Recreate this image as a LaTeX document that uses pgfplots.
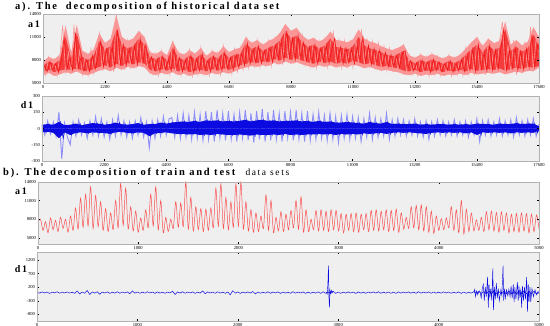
\documentclass[border=0pt]{standalone}
\usepackage{pgfplots}
\pgfplotsset{compat=1.18}
\usepackage{pgfplotstable}
\usepackage{fontspec}
\setmainfont{Liberation Serif}
\newfontfamily\titlefont[LetterSpace=17]{Liberation Serif}
\definecolor{lred}{RGB}{250,150,150}
\definecolor{dred}{RGB}{240,20,20}
\definecolor{fred}{RGB}{245,60,60}
\definecolor{mred}{RGB}{250,80,80}
\definecolor{lblue}{RGB}{140,140,250}
\definecolor{dblue}{RGB}{10,10,225}
\definecolor{bgc}{RGB}{239,239,239}

% ---- top a1 envelopes: pink band (U,L) and red band (u,l) ----
\pgfplotstableread[row sep=\\]{
x U L u l\\
0 7800 6000 7200 6500\\ 200 8400 6300 7800 6700\\ 400 8100 5900 7500 6400\\ 600 8700 6100 8000 6600\\
800 12500 6400 11000 6800\\ 1000 9000 6200 8200 6700\\ 1200 12600 6500 11500 6900\\ 1400 9200 6100 8400 6600\\
1600 8800 6000 8000 6500\\ 1800 9400 6300 8600 6800\\ 2000 11500 6600 10500 7100\\ 2200 10200 6800 9400 7300\\
2400 10800 6500 9800 7000\\ 2600 13900 7000 12000 7500\\ 2800 11000 6700 10000 7200\\ 3000 10500 7100 9500 7600\\
3200 10800 6900 9800 7400\\ 3400 11800 7200 10800 7700\\ 3600 11000 7000 10000 7500\\ 3800 9000 6200 8400 6700\\
4000 8800 6000 8100 6500\\ 4200 9200 6300 8500 6800\\ 4400 8600 6100 8000 6600\\ 4600 10500 6400 9600 6900\\
4800 9000 6000 8300 6500\\ 5000 8700 6200 8000 6700\\ 5200 9300 5900 8600 6400\\ 5400 8800 6100 8100 6600\\
5600 9600 6200 8800 6700\\ 5800 8500 6000 7900 6500\\ 6000 9200 6300 8500 6800\\ 6200 8900 6100 8200 6600\\
6400 9800 6400 9000 6900\\ 6600 9000 6200 8300 6700\\ 6800 9400 6500 8700 7000\\ 7000 9600 6800 8800 7300\\
7200 11000 7000 10200 7500\\ 7400 10200 7200 9400 7700\\ 7600 10600 7100 9800 7600\\ 7800 10000 7300 9200 7800\\
8000 10500 7200 9600 7700\\ 8200 10800 7600 9900 8100\\ 8400 11500 7400 10500 7900\\ 8600 12700 7800 11800 8300\\
8800 11800 7500 10800 8000\\ 9000 12200 7700 11200 8200\\ 9200 11200 7400 10300 7900\\ 9400 10600 7200 9700 7700\\
9600 10900 7000 10000 7500\\ 9800 10400 7300 9500 7800\\ 10000 10800 7100 9900 7600\\ 10200 11700 7300 10800 7800\\
10400 10600 7000 9700 7500\\ 10600 10500 7200 9600 7700\\ 10800 10300 7000 9400 7500\\ 11000 10700 7400 9800 7900\\
11200 12000 7200 11000 7700\\ 11400 10800 6900 9900 7400\\ 11600 10400 7100 9500 7600\\ 11800 10200 6800 9300 7300\\
12000 9800 6600 9000 7100\\ 12200 9500 6700 8700 7200\\ 12400 9300 6500 8500 7000\\ 12600 9600 6400 8800 6900\\
12800 10000 6100 9200 6600\\ 13000 8600 6000 7900 6500\\ 13200 8300 6200 7600 6700\\ 13400 8700 5900 8000 6400\\
13600 8400 6100 7700 6600\\ 13800 8800 6000 8100 6500\\ 14000 8500 6200 7800 6700\\ 14200 8200 5900 7500 6400\\
14400 8600 6100 7900 6600\\ 14600 8300 6000 7600 6500\\ 14800 8700 6200 8000 6700\\ 15000 9500 6000 8700 6500\\
15200 10300 6300 9400 6800\\ 15400 11000 6100 10000 6600\\ 15600 9800 6200 9000 6700\\ 15800 10800 6300 9900 6800\\
16000 10200 6200 9300 6700\\ 16200 10500 6400 9600 6900\\ 16400 13000 6100 12000 6600\\ 16600 10000 6300 9200 6800\\
16800 10600 6500 9700 7000\\ 17000 9900 6300 9100 6800\\ 17200 10400 6600 9500 7100\\ 17400 12300 6500 11300 7000\\
17600 11000 7000 10000 7200\\
}\AoneEnv

% ---- top a1 light series (spikes), step 100 ----
\pgfplotstableread[header=false,row sep=\\]{
7800\\ 6000\\ 8400\\ 6300\\ 8100\\ 5900\\ 8700\\ 12500\\ 6400\\ 9000\\
6200\\ 12600\\ 6500\\ 9200\\ 6100\\ 8800\\ 6000\\ 9400\\ 6300\\ 9100\\
11500\\ 6600\\ 10200\\ 6800\\ 10800\\ 6500\\ 13900\\ 7000\\ 11000\\ 6700\\
10500\\ 7100\\ 10800\\ 6900\\ 11800\\ 7200\\ 11000\\ 7000\\ 9000\\ 6200\\
8800\\ 6000\\ 9200\\ 6300\\ 8600\\ 6100\\ 10500\\ 6400\\ 9000\\ 6000\\
8700\\ 6200\\ 9300\\ 5900\\ 8800\\ 6100\\ 9600\\ 6200\\ 8500\\ 6000\\
9200\\ 6300\\ 8900\\ 6100\\ 9800\\ 6400\\ 9000\\ 6200\\ 9400\\ 6500\\
9600\\ 6800\\ 11000\\ 7000\\ 10200\\ 7200\\ 10600\\ 7100\\ 10000\\ 7300\\
10500\\ 7200\\ 10800\\ 7600\\ 11500\\ 7400\\ 12700\\ 7800\\ 11800\\ 7500\\
12200\\ 7700\\ 11200\\ 7400\\ 10600\\ 7200\\ 10900\\ 7000\\ 10400\\ 7300\\
10800\\ 7100\\ 10200\\ 11700\\ 7300\\ 10600\\ 7000\\ 10500\\ 7200\\ 10300\\
7000\\ 10700\\ 7400\\ 12000\\ 7200\\ 10800\\ 6900\\ 10400\\ 7100\\ 10200\\
6800\\ 9800\\ 6600\\ 9500\\ 6700\\ 9300\\ 6500\\ 9600\\ 10000\\ 6400\\
8600\\ 6100\\ 8300\\ 6000\\ 8700\\ 6200\\ 8400\\ 5900\\ 8800\\ 6100\\
8500\\ 6000\\ 8200\\ 6200\\ 8600\\ 5900\\ 8300\\ 6100\\ 8700\\ 6000\\
9500\\ 6200\\ 10300\\ 6000\\ 11000\\ 6300\\ 9800\\ 6100\\ 10800\\ 6200\\
10200\\ 6300\\ 10500\\ 13000\\ 6200\\ 10000\\ 6400\\ 10600\\ 6100\\ 9900\\
6300\\ 10400\\ 6500\\ 12300\\ 6600\\ 11000\\ 9000\\
}\AoneLight

% ---- top a1 dark series (texture), step 100 ----
\pgfplotstableread[header=false,row sep=\\]{
7200\\ 6500\\ 7800\\ 6700\\ 7500\\ 6400\\ 8000\\ 11000\\ 6800\\ 8200\\
6700\\ 11500\\ 6900\\ 8400\\ 6600\\ 8000\\ 6500\\ 8600\\ 6800\\ 8300\\
10500\\ 7100\\ 9400\\ 7300\\ 9800\\ 7000\\ 12000\\ 7500\\ 10000\\ 7200\\
9500\\ 7600\\ 9800\\ 7400\\ 10800\\ 7700\\ 10000\\ 7500\\ 8400\\ 6700\\
8100\\ 6500\\ 8500\\ 6800\\ 8000\\ 6600\\ 9600\\ 6900\\ 8300\\ 6500\\
8000\\ 6700\\ 8600\\ 6400\\ 8100\\ 6600\\ 8800\\ 6700\\ 7900\\ 6500\\
8500\\ 6800\\ 8200\\ 6600\\ 9000\\ 6900\\ 8300\\ 6700\\ 8700\\ 7000\\
8800\\ 7300\\ 10200\\ 7500\\ 9400\\ 7700\\ 9800\\ 7600\\ 9200\\ 7800\\
9600\\ 7700\\ 9900\\ 8100\\ 10500\\ 7900\\ 11800\\ 8300\\ 10800\\ 8000\\
11200\\ 8200\\ 10300\\ 7900\\ 9700\\ 7700\\ 10000\\ 7500\\ 9500\\ 7800\\
9900\\ 7600\\ 9400\\ 10800\\ 7800\\ 9700\\ 7500\\ 9600\\ 7700\\ 9400\\
7500\\ 9800\\ 7900\\ 11000\\ 7700\\ 9900\\ 7400\\ 9500\\ 7600\\ 9300\\
7300\\ 9000\\ 7100\\ 8700\\ 7200\\ 8500\\ 7000\\ 8800\\ 9200\\ 6900\\
7900\\ 6600\\ 7600\\ 6500\\ 8000\\ 6700\\ 7700\\ 6400\\ 8100\\ 6600\\
7800\\ 6500\\ 7500\\ 6700\\ 7900\\ 6400\\ 7600\\ 6600\\ 8000\\ 6500\\
8700\\ 6700\\ 9400\\ 6500\\ 10000\\ 6800\\ 9000\\ 6600\\ 9900\\ 6700\\
9300\\ 6800\\ 9600\\ 12000\\ 6700\\ 9200\\ 6900\\ 9700\\ 6600\\ 9100\\
6800\\ 9500\\ 7000\\ 11300\\ 7100\\ 10000\\ 8500\\
}\AoneDark

% ---- top d1 dark band envelope (u,l) ----
\pgfplotstableread[row sep=\\]{
x u l\\
0 35 -35\\ 200 40 -30\\ 400 35 -40\\ 600 60 -90\\ 800 30 -35\\ 1000 35 -60\\ 1200 45 -40\\ 1400 30 -35\\
1600 40 -45\\ 1800 50 -35\\ 2000 45 -40\\ 2200 35 -40\\ 2400 40 -50\\ 2600 55 -35\\ 2800 40 -30\\ 3000 35 -40\\
3200 40 -45\\ 3400 50 -35\\ 3600 35 -40\\ 3800 40 -70\\ 4000 40 -45\\ 4200 55 -40\\ 4400 45 -35\\ 4600 55 -45\\
4800 60 -50\\ 5000 65 -50\\ 5200 60 -55\\ 5400 70 -50\\ 5600 60 -60\\ 5800 75 -55\\ 6000 70 -60\\ 6200 75 -50\\
6400 65 -55\\ 6600 70 -60\\ 6800 65 -60\\ 7000 70 -55\\ 7200 80 -60\\ 7400 65 -65\\ 7600 75 -55\\ 7800 80 -60\\
8000 70 -60\\ 8200 75 -55\\ 8400 65 -60\\ 8600 70 -50\\ 8800 70 -60\\ 9000 75 -55\\ 9200 65 -60\\ 9400 70 -55\\
9600 60 -55\\ 9800 70 -50\\ 10000 60 -55\\ 10200 65 -50\\ 10400 55 -60\\ 10600 55 -50\\ 10800 60 -55\\ 11000 55 -50\\
11200 50 -55\\ 11400 45 -45\\ 11600 60 -50\\ 11800 50 -45\\ 12000 45 -40\\ 12200 60 -50\\ 12400 40 -40\\ 12600 45 -35\\
12800 40 -40\\ 13000 40 -35\\ 13200 45 -40\\ 13400 35 -45\\ 13600 40 -50\\ 13800 35 -40\\ 14000 40 -35\\ 14200 40 -40\\
14400 35 -35\\ 14600 40 -40\\ 14800 35 -35\\ 15000 40 -45\\ 15200 35 -35\\ 15400 45 -60\\ 15600 40 -35\\ 15800 40 -40\\
16000 35 -35\\ 16200 45 -40\\ 16400 40 -35\\ 16600 40 -45\\ 16800 50 -35\\ 17000 40 -40\\ 17200 45 -35\\ 17400 45 -40\\
17600 20 -20\\
}\DoneEnv

% ---- top d1 light series (spikes), step 100 ----
\pgfplotstableread[header=false,row sep=\\]{
40\\ -60\\ 70\\ -50\\ 60\\ -70\\ 150\\ -280\\ 50\\ -80\\
-150\\ 60\\ -70\\ 80\\ -60\\ 50\\ -90\\ 70\\ -60\\ 110\\
-70\\ 90\\ -80\\ 60\\ -100\\ 80\\ -70\\ 120\\ -60\\ 70\\
-80\\ 60\\ -90\\ 70\\ -60\\ 100\\ -80\\ 60\\ -180\\ 70\\
-90\\ 80\\ -70\\ 110\\ -60\\ 90\\ 100\\ -80\\ 120\\ -90\\
140\\ -80\\ 120\\ -100\\ 150\\ -90\\ 130\\ -110\\ 160\\ -100\\
150\\ -120\\ 170\\ -90\\ 140\\ -110\\ 160\\ -100\\ 130\\ -120\\
150\\ -90\\ 170\\ -110\\ 140\\ -130\\ 160\\ -100\\ 180\\ -120\\
150\\ -110\\ 170\\ -100\\ 140\\ -120\\ 160\\ -90\\ 150\\ -110\\
170\\ -100\\ 140\\ -120\\ 160\\ -110\\ 130\\ -100\\ 150\\ -90\\
120\\ -110\\ 140\\ -100\\ 110\\ -130\\ 120\\ -90\\ 130\\ -100\\
110\\ -90\\ 100\\ -120\\ 90\\ -80\\ 140\\ -100\\ 100\\ -80\\
90\\ -70\\ 140\\ -100\\ 80\\ -70\\ 90\\ -60\\ 80\\ -70\\
70\\ -60\\ 90\\ -70\\ 60\\ -80\\ 70\\ -100\\ 60\\ -70\\
80\\ -60\\ 70\\ -70\\ 60\\ -60\\ 80\\ -70\\ 60\\ -60\\
70\\ -80\\ 60\\ -60\\ 90\\ -120\\ 70\\ -60\\ 80\\ -70\\
60\\ -60\\ 90\\ -70\\ 70\\ -60\\ 80\\ -80\\ 100\\ -60\\
70\\ -70\\ 80\\ -60\\ 90\\ -70\\ 40\\
}\DoneLight

% ---- top d1 dark series (texture), step 100 ----
\pgfplotstableread[header=false,row sep=\\]{
30\\ -35\\ 40\\ -30\\ 35\\ -40\\ 60\\ -90\\ 30\\ -35\\
-60\\ 35\\ -40\\ 45\\ -35\\ 30\\ -45\\ 40\\ -35\\ 50\\
-40\\ 45\\ -40\\ 35\\ -50\\ 40\\ -35\\ 55\\ -30\\ 40\\
-40\\ 35\\ -45\\ 40\\ -35\\ 50\\ -40\\ 35\\ -70\\ 40\\
-45\\ 40\\ -40\\ 55\\ -35\\ 45\\ 55\\ -45\\ 60\\ -50\\
65\\ -50\\ 60\\ -55\\ 70\\ -50\\ 60\\ -60\\ 75\\ -55\\
70\\ -60\\ 75\\ -50\\ 65\\ -55\\ 70\\ -60\\ 65\\ -60\\
70\\ -55\\ 80\\ -60\\ 65\\ -65\\ 75\\ -55\\ 80\\ -60\\
70\\ -60\\ 75\\ -55\\ 65\\ -60\\ 70\\ -50\\ 70\\ -60\\
75\\ -55\\ 65\\ -60\\ 70\\ -55\\ 60\\ -55\\ 70\\ -50\\
60\\ -55\\ 65\\ -50\\ 55\\ -60\\ 55\\ -50\\ 60\\ -55\\
55\\ -50\\ 50\\ -55\\ 45\\ -45\\ 60\\ -50\\ 50\\ -45\\
45\\ -40\\ 60\\ -50\\ 40\\ -40\\ 45\\ -35\\ 40\\ -40\\
40\\ -35\\ 45\\ -40\\ 35\\ -45\\ 40\\ -50\\ 35\\ -40\\
40\\ -35\\ 40\\ -40\\ 35\\ -35\\ 40\\ -40\\ 35\\ -35\\
40\\ -45\\ 35\\ -35\\ 45\\ -60\\ 40\\ -35\\ 40\\ -40\\
35\\ -35\\ 45\\ -40\\ 40\\ -35\\ 40\\ -45\\ 50\\ -35\\
40\\ -40\\ 45\\ -35\\ 45\\ -40\\ 20\\
}\DoneDark

% ---- bottom a1 (step 25) ----
\pgfplotstableread[header=false,row sep=\\]{
7500\\ 8000\\ 6200\\ 7600\\ 5800\\ 8200\\ 6300\\ 7800\\ 6000\\ 8300\\
6500\\ 8000\\ 5900\\ 8500\\ 6200\\ 9800\\ 6400\\ 11400\\ 6700\\ 12000\\
6900\\ 13200\\ 6500\\ 11800\\ 6800\\ 10800\\ 6200\\ 9700\\ 6000\\ 9000\\
6300\\ 11000\\ 6600\\ 13800\\ 7000\\ 13000\\ 6400\\ 10000\\ 6100\\ 9300\\
5900\\ 8200\\ 6200\\ 9500\\ 6600\\ 12000\\ 6900\\ 13200\\ 6300\\ 11000\\
5800\\ 8300\\ 6000\\ 8000\\ 6500\\ 10800\\ 6700\\ 10600\\ 6800\\ 14000\\
6400\\ 11500\\ 6100\\ 10000\\ 6300\\ 9700\\ 6000\\ 9600\\ 6200\\ 9800\\
6600\\ 13000\\ 6900\\ 13700\\ 6500\\ 11500\\ 6300\\ 10800\\ 6700\\ 13700\\
6900\\ 14000\\ 6400\\ 10800\\ 6100\\ 9500\\ 5900\\ 9000\\ 6000\\ 8500\\
6500\\ 11900\\ 6200\\ 11000\\ 5800\\ 8300\\ 6100\\ 9200\\ 6000\\ 8800\\
6300\\ 9400\\ 6600\\ 11000\\ 6400\\ 11600\\ 5900\\ 9500\\ 6000\\ 8000\\
6300\\ 9400\\ 6100\\ 9500\\ 6200\\ 9300\\ 6000\\ 9500\\ 6300\\ 9400\\
6100\\ 8900\\ 5800\\ 8800\\ 6200\\ 8900\\ 6000\\ 9000\\ 5900\\ 8800\\
6300\\ 8900\\ 6000\\ 9400\\ 6200\\ 9500\\ 6100\\ 9300\\ 6300\\ 9500\\
6000\\ 9400\\ 6200\\ 9600\\ 5900\\ 9000\\ 6400\\ 8300\\ 6500\\ 10000\\
6600\\ 10200\\ 6300\\ 10300\\ 6100\\ 10000\\ 5900\\ 9300\\ 5700\\ 8500\\
6200\\ 8100\\ 6300\\ 8200\\ 6600\\ 10000\\ 6200\\ 9500\\ 5800\\ 11000\\
5600\\ 9600\\ 6000\\ 9000\\ 6100\\ 7900\\ 6200\\ 8300\\ 6000\\ 9200\\
6300\\ 9300\\ 6100\\ 9100\\ 5900\\ 9200\\ 6200\\ 9000\\ 5800\\ 8800\\
6000\\ 8900\\ 5900\\ 9000\\ 6100\\ 8900\\ 5800\\ 8800\\ 6000\\ 8700\\
6500\\
}\AoneB

% ---- bottom d1 baseline noise (step 25) ----
\pgfplotstableread[header=false,row sep=\\]{
10\\ -20\\ 25\\ -15\\ 20\\ -30\\ 15\\ -10\\ 30\\ -25\\
20\\ -15\\ 25\\ -20\\ 15\\ -30\\ 60\\ -50\\ 20\\ -25\\
80\\ -70\\ 25\\ -20\\ 30\\ -60\\ 20\\ -15\\ 25\\ -30\\
15\\ -20\\ 30\\ -25\\ 20\\ -15\\ 25\\ -40\\ 60\\ -20\\
20\\ -25\\ 15\\ -20\\ 30\\ -15\\ 20\\ -30\\ 25\\ -20\\
15\\ -25\\ 20\\ -15\\ 50\\ -70\\ 25\\ -20\\ 30\\ -25\\
20\\ -15\\ 25\\ -30\\ 20\\ -20\\ 60\\ -40\\ 25\\ -15\\
20\\ -25\\ 30\\ -20\\ 15\\ -25\\ 20\\ -80\\ 70\\ -20\\
25\\ -30\\ 20\\ -15\\ 25\\ -20\\ 40\\ -50\\ 20\\ -25\\
15\\ -20\\ 30\\ -25\\ 20\\ -15\\ 25\\ -30\\ 20\\ -20\\
15\\ -25\\ 30\\ -20\\ 20\\ -15\\ 25\\ -30\\ 20\\ -25\\
15\\ -20\\ 25\\ -30\\ 30\\ -25\\ 20\\ -30\\ 50\\ -30\\
20\\ -25\\ 15\\ -20\\ 25\\ -15\\ 20\\ -30\\ 25\\ -20\\
15\\ -25\\ 20\\ -15\\ 25\\ -20\\ 30\\ -25\\ 15\\ -20\\
20\\ -25\\ 15\\ -30\\ 25\\ -20\\ 20\\ -15\\ 25\\ -20\\
15\\ -25\\ 30\\ -20\\ 20\\ -15\\ 25\\ -25\\ 20\\ -20\\
15\\ -20\\ 25\\ -15\\ 20\\ -25\\ 15\\ -20\\ 25\\ -30\\
20\\ -25\\ 15\\ -20\\ 30\\ -25\\ 40\\ -30\\ 35\\ -40\\
45\\ -40\\ 50\\ -45\\ 40\\ -50\\ 45\\ -40\\ 50\\ -45\\
40\\ -50\\ 45\\ -40\\ 50\\ -45\\ 40\\ -50\\ 45\\ -40\\
-10\\
}\DoneB

\pgfplotsset{
  panel/.style={
    scale only axis,
    anchor=south west,
    axis on top,
    axis background/.style={fill=bgc},
    axis line style={gray!60, line width=0.8pt},
    tick style={black, line width=0.35pt},
    major tick length=2pt,
    tick pos=both,
    ticklabel style={font=\fontsize{4.6}{5}\selectfont},
    /pgf/number format/assume math mode=true,
    /pgf/number format/1000 sep={},
    scaled ticks=false,
    xticklabel style={yshift=1.5pt},
    yticklabel style={xshift=1.5pt},
  }
}

\begin{document}
\begin{tikzpicture}
\useasboundingbox (0pt,0pt) rectangle (550pt,326pt);

% titles
\node[anchor=base west, inner sep=0pt, font=\fontsize{10.5}{12}\titlefont\bfseries] at (15pt,316.5pt)
  {a). The\ \ decomposition of historical data set};
\node[anchor=base west, inner sep=0pt, font=\fontsize{10.5}{12}\titlefont] at (3pt,150pt)
  {\textbf{b). The decomposition of train and test} \fontsize{9.5}{10}\selectfont\ data sets};

% top a1
\begin{axis}[panel, at={(43pt,243pt)}, width=496pt, height=69pt,
  xmin=0, xmax=17600, ymin=5000, ymax=14000,
  xtick={0,2200,4400,6600,8800,11000,13200,15400,17600},
  ytick={5000,8000,11000,14000}]
\addplot[fill=lred, draw=none] table[x=x, y=U] {\AoneEnv} \closedcycle;
\addplot[fill=fred, draw=none] table[x=x, y=u] {\AoneEnv} \closedcycle;
\addplot[fill=lred, draw=none] table[x=x, y=l] {\AoneEnv} \closedcycle;
\addplot[fill=bgc, draw=none] table[x=x, y=L] {\AoneEnv} \closedcycle;
\addplot[lred, line width=0.6pt] table[x expr=\coordindex*100, y index=0] {\AoneLight};
\addplot[dred, line width=0.55pt] table[x expr=\coordindex*100+50, y index=0] {\AoneDark};
\end{axis}

% top d1
\begin{axis}[panel, at={(42pt,165pt)}, width=497pt, height=65pt,
  xmin=0, xmax=17600, ymin=-300, ymax=300,
  xtick={0,2200,4400,6600,8800,11000,13200,15400,17600},
  ytick={-300,-150,0,150,300}]
\addplot[lblue, line width=0.9pt] table[x expr=\coordindex*100, y index=0] {\DoneLight};
\addplot[fill=dblue, draw=none] table[x=x, y=u] {\DoneEnv} \closedcycle;
\addplot[fill=dblue, draw=none] table[x=x, y=l] {\DoneEnv} \closedcycle;
\addplot[dblue, line width=0.55pt] table[x expr=\coordindex*100+50, y index=0] {\DoneDark};
\end{axis}

% bottom a1
\begin{axis}[panel, at={(38pt,82pt)}, width=501pt, height=62pt,
  xmin=0, xmax=5000, ymin=4000, ymax=14000,
  xtick={0,1000,2000,3000,4000,5000},
  ytick={5000,8000,11000,14000}]
\addplot[mred, line width=0.5pt, smooth] table[x expr=\coordindex*25, y index=0] {\AoneB};
\end{axis}

% bottom d1
\begin{axis}[panel, at={(37pt,5pt)}, width=502pt, height=69pt,
  xmin=0, xmax=5000, ymin=-1050, ymax=1500,
  xtick={0,1000,2000,3000,4000,5000},
  ytick={-800,-300,200,700,1200}]
\addplot[dblue, line width=0.5pt] table[x expr=\coordindex*25, y index=0] {\DoneB};
\addplot[dblue, line width=0.45pt] coordinates {
 (2880,20)(2890,-60)(2897,300)(2903,1000)(2908,-200)(2913,-550)(2918,100)(2925,-30)(2935,80)(2945,-20)};
\addplot[dblue, line width=0.45pt] coordinates {
 (4350,10)(4360,120)(4368,-150)(4378,60)(4390,-80)(4400,50)(4410,60)(4425,-200)(4435,150)(4446,300)(4455,-300)
 (4465,200)(4475,-150)(4488,576)(4495,-560)(4502,300)(4510,-200)(4520,150)(4530,-300)(4540,890)(4547,-650)
 (4555,200)(4565,-250)(4575,350)(4585,-200)(4595,150)(4605,-300)(4620,100)(4630,-100)(4642,1000)(4648,-300)
 (4655,150)(4665,-200)(4675,100)(4690,-120)(4700,120)(4712,-150)(4722,250)(4733,-200)(4744,300)(4752,-350)
 (4760,200)(4770,-250)(4785,390)(4793,-300)(4800,250)(4810,-200)(4820,150)(4827,-560)(4835,250)(4845,-300)
 (4855,200)(4865,-250)(4877,575)(4885,-700)(4893,300)(4900,-350)(4910,200)(4918,-350)(4930,150)(4945,-150)
 (4960,100)(4975,-80)(4990,40)(5000,-20)};
\end{axis}

% panel labels
\node[font=\fontsize{10}{11}\selectfont\bfseries] at (34pt,302pt) {a\,1};
\node[font=\fontsize{10}{11}\selectfont\bfseries] at (27pt,221pt) {d\,1};
\node[font=\fontsize{10}{11}\selectfont\bfseries] at (21pt,135pt) {a\,1};
\node[font=\fontsize{10}{11}\selectfont\bfseries] at (21pt,57pt) {d\,1};
\end{tikzpicture}
\end{document}
